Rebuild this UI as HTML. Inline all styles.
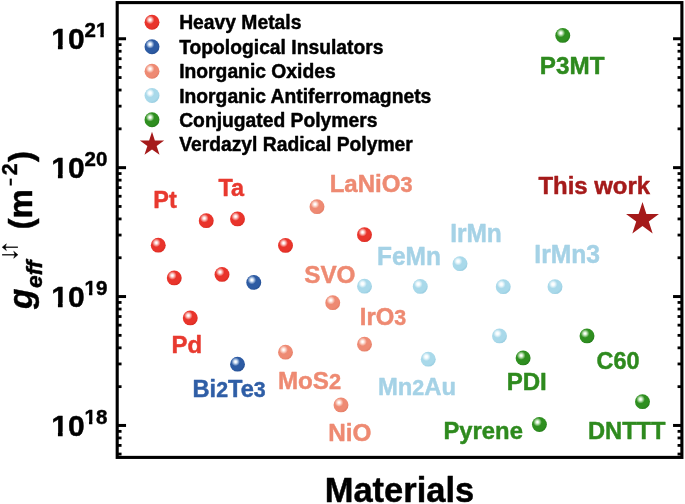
<!DOCTYPE html>
<html><head><meta charset="utf-8"><title>Spin mixing conductance</title>
<style>html,body{margin:0;padding:0;background:#fff;}body{width:685px;height:504px;overflow:hidden;}svg{display:block;will-change:transform;}text{font-family:"Liberation Sans",sans-serif;font-weight:bold;}</style></head><body>
<svg width="685" height="504" viewBox="0 0 685 504">
<defs>
<radialGradient id="g_red" cx="0.37" cy="0.34" r="0.80"><stop offset="0" stop-color="#ffffff"/><stop offset="0.05" stop-color="#ffffff"/><stop offset="0.14" stop-color="#fbd0cc"/><stop offset="0.36" stop-color="#e9342b"/><stop offset="0.68" stop-color="#e9342b"/><stop offset="0.93" stop-color="#d3281f"/></radialGradient>
<radialGradient id="g_blue" cx="0.37" cy="0.34" r="0.80"><stop offset="0" stop-color="#ffffff"/><stop offset="0.05" stop-color="#ffffff"/><stop offset="0.14" stop-color="#cfdff3"/><stop offset="0.36" stop-color="#2d5ba3"/><stop offset="0.68" stop-color="#2d5ba3"/><stop offset="0.93" stop-color="#224a8c"/></radialGradient>
<radialGradient id="g_salm" cx="0.37" cy="0.34" r="0.80"><stop offset="0" stop-color="#ffffff"/><stop offset="0.05" stop-color="#ffffff"/><stop offset="0.14" stop-color="#fde3db"/><stop offset="0.36" stop-color="#ee8a73"/><stop offset="0.68" stop-color="#ee8a73"/><stop offset="0.93" stop-color="#e07a63"/></radialGradient>
<radialGradient id="g_lblue" cx="0.37" cy="0.34" r="0.80"><stop offset="0" stop-color="#ffffff"/><stop offset="0.05" stop-color="#ffffff"/><stop offset="0.14" stop-color="#f2fafd"/><stop offset="0.36" stop-color="#a9d9ea"/><stop offset="0.68" stop-color="#a9d9ea"/><stop offset="0.93" stop-color="#93c9dd"/></radialGradient>
<radialGradient id="g_green" cx="0.37" cy="0.34" r="0.80"><stop offset="0" stop-color="#ffffff"/><stop offset="0.05" stop-color="#ffffff"/><stop offset="0.14" stop-color="#cdebc6"/><stop offset="0.36" stop-color="#2f8f20"/><stop offset="0.68" stop-color="#2f8f20"/><stop offset="0.93" stop-color="#23781a"/></radialGradient>
</defs>
<rect x="0" y="0" width="685" height="504" fill="#ffffff"/>
<g stroke="#000" stroke-linecap="butt">
<line x1="117.2" y1="425.45" x2="126.05" y2="425.45" stroke-width="3.0"/>
<line x1="681.9" y1="425.45" x2="673.05" y2="425.45" stroke-width="3.0"/>
<line x1="117.2" y1="296.55" x2="126.05" y2="296.55" stroke-width="3.0"/>
<line x1="681.9" y1="296.55" x2="673.05" y2="296.55" stroke-width="3.0"/>
<line x1="117.2" y1="167.65" x2="126.05" y2="167.65" stroke-width="3.0"/>
<line x1="681.9" y1="167.65" x2="673.05" y2="167.65" stroke-width="3.0"/>
<line x1="117.2" y1="38.75" x2="126.05" y2="38.75" stroke-width="3.0"/>
<line x1="681.9" y1="38.75" x2="673.05" y2="38.75" stroke-width="3.0"/>
<line x1="117.2" y1="454.05" x2="121.55" y2="454.05" stroke-width="2.8"/>
<line x1="681.9" y1="454.05" x2="677.55" y2="454.05" stroke-width="2.8"/>
<line x1="117.2" y1="445.42" x2="121.55" y2="445.42" stroke-width="2.8"/>
<line x1="681.9" y1="445.42" x2="677.55" y2="445.42" stroke-width="2.8"/>
<line x1="117.2" y1="437.94" x2="121.55" y2="437.94" stroke-width="2.8"/>
<line x1="681.9" y1="437.94" x2="677.55" y2="437.94" stroke-width="2.8"/>
<line x1="117.2" y1="431.35" x2="121.55" y2="431.35" stroke-width="2.8"/>
<line x1="681.9" y1="431.35" x2="677.55" y2="431.35" stroke-width="2.8"/>
<line x1="117.2" y1="386.65" x2="121.55" y2="386.65" stroke-width="2.8"/>
<line x1="681.9" y1="386.65" x2="677.55" y2="386.65" stroke-width="2.8"/>
<line x1="117.2" y1="363.95" x2="121.55" y2="363.95" stroke-width="2.8"/>
<line x1="681.9" y1="363.95" x2="677.55" y2="363.95" stroke-width="2.8"/>
<line x1="117.2" y1="347.84" x2="121.55" y2="347.84" stroke-width="2.8"/>
<line x1="681.9" y1="347.84" x2="677.55" y2="347.84" stroke-width="2.8"/>
<line x1="117.2" y1="335.35" x2="121.55" y2="335.35" stroke-width="2.8"/>
<line x1="681.9" y1="335.35" x2="677.55" y2="335.35" stroke-width="2.8"/>
<line x1="117.2" y1="325.15" x2="121.55" y2="325.15" stroke-width="2.8"/>
<line x1="681.9" y1="325.15" x2="677.55" y2="325.15" stroke-width="2.8"/>
<line x1="117.2" y1="316.52" x2="121.55" y2="316.52" stroke-width="2.8"/>
<line x1="681.9" y1="316.52" x2="677.55" y2="316.52" stroke-width="2.8"/>
<line x1="117.2" y1="309.04" x2="121.55" y2="309.04" stroke-width="2.8"/>
<line x1="681.9" y1="309.04" x2="677.55" y2="309.04" stroke-width="2.8"/>
<line x1="117.2" y1="302.45" x2="121.55" y2="302.45" stroke-width="2.8"/>
<line x1="681.9" y1="302.45" x2="677.55" y2="302.45" stroke-width="2.8"/>
<line x1="117.2" y1="257.75" x2="121.55" y2="257.75" stroke-width="2.8"/>
<line x1="681.9" y1="257.75" x2="677.55" y2="257.75" stroke-width="2.8"/>
<line x1="117.2" y1="235.05" x2="121.55" y2="235.05" stroke-width="2.8"/>
<line x1="681.9" y1="235.05" x2="677.55" y2="235.05" stroke-width="2.8"/>
<line x1="117.2" y1="218.94" x2="121.55" y2="218.94" stroke-width="2.8"/>
<line x1="681.9" y1="218.94" x2="677.55" y2="218.94" stroke-width="2.8"/>
<line x1="117.2" y1="206.45" x2="121.55" y2="206.45" stroke-width="2.8"/>
<line x1="681.9" y1="206.45" x2="677.55" y2="206.45" stroke-width="2.8"/>
<line x1="117.2" y1="196.25" x2="121.55" y2="196.25" stroke-width="2.8"/>
<line x1="681.9" y1="196.25" x2="677.55" y2="196.25" stroke-width="2.8"/>
<line x1="117.2" y1="187.62" x2="121.55" y2="187.62" stroke-width="2.8"/>
<line x1="681.9" y1="187.62" x2="677.55" y2="187.62" stroke-width="2.8"/>
<line x1="117.2" y1="180.14" x2="121.55" y2="180.14" stroke-width="2.8"/>
<line x1="681.9" y1="180.14" x2="677.55" y2="180.14" stroke-width="2.8"/>
<line x1="117.2" y1="173.55" x2="121.55" y2="173.55" stroke-width="2.8"/>
<line x1="681.9" y1="173.55" x2="677.55" y2="173.55" stroke-width="2.8"/>
<line x1="117.2" y1="128.85" x2="121.55" y2="128.85" stroke-width="2.8"/>
<line x1="681.9" y1="128.85" x2="677.55" y2="128.85" stroke-width="2.8"/>
<line x1="117.2" y1="106.15" x2="121.55" y2="106.15" stroke-width="2.8"/>
<line x1="681.9" y1="106.15" x2="677.55" y2="106.15" stroke-width="2.8"/>
<line x1="117.2" y1="90.04" x2="121.55" y2="90.04" stroke-width="2.8"/>
<line x1="681.9" y1="90.04" x2="677.55" y2="90.04" stroke-width="2.8"/>
<line x1="117.2" y1="77.55" x2="121.55" y2="77.55" stroke-width="2.8"/>
<line x1="681.9" y1="77.55" x2="677.55" y2="77.55" stroke-width="2.8"/>
<line x1="117.2" y1="67.35" x2="121.55" y2="67.35" stroke-width="2.8"/>
<line x1="681.9" y1="67.35" x2="677.55" y2="67.35" stroke-width="2.8"/>
<line x1="117.2" y1="58.72" x2="121.55" y2="58.72" stroke-width="2.8"/>
<line x1="681.9" y1="58.72" x2="677.55" y2="58.72" stroke-width="2.8"/>
<line x1="117.2" y1="51.24" x2="121.55" y2="51.24" stroke-width="2.8"/>
<line x1="681.9" y1="51.24" x2="677.55" y2="51.24" stroke-width="2.8"/>
<line x1="117.2" y1="44.65" x2="121.55" y2="44.65" stroke-width="2.8"/>
<line x1="681.9" y1="44.65" x2="677.55" y2="44.65" stroke-width="2.8"/>
</g>
<rect x="117.2" y="2.6" width="564.70" height="454.80" fill="none" stroke="#000" stroke-width="3.1"/>
<text x="51.25" y="435.80" font-size="30.0" fill="#000" stroke="#000" stroke-width="0.45" stroke-linejoin="round">10</text>
<rect x="52.15" y="431.75" width="5.78" height="5.65" fill="#fff"/><rect x="62.65" y="431.75" width="5.70" height="5.65" fill="#fff"/>
<text x="84.5" y="423.60" font-size="20.5" fill="#000" stroke="#000" stroke-width="0.45" stroke-linejoin="round">18</text>
<rect x="85.11" y="420.83" width="3.85" height="4.37" fill="#fff"/><rect x="92.38" y="420.83" width="3.90" height="4.37" fill="#fff"/>
<text x="51.25" y="306.90" font-size="30.0" fill="#000" stroke="#000" stroke-width="0.45" stroke-linejoin="round">10</text>
<rect x="52.15" y="302.85" width="5.78" height="5.65" fill="#fff"/><rect x="62.65" y="302.85" width="5.70" height="5.65" fill="#fff"/>
<text x="84.5" y="294.70" font-size="20.5" fill="#000" stroke="#000" stroke-width="0.45" stroke-linejoin="round">19</text>
<rect x="85.11" y="291.93" width="3.85" height="4.37" fill="#fff"/><rect x="92.38" y="291.93" width="3.90" height="4.37" fill="#fff"/>
<text x="51.25" y="178.00" font-size="30.0" fill="#000" stroke="#000" stroke-width="0.45" stroke-linejoin="round">10</text>
<rect x="52.15" y="173.95" width="5.78" height="5.65" fill="#fff"/><rect x="62.65" y="173.95" width="5.70" height="5.65" fill="#fff"/>
<text x="84.5" y="165.80" font-size="20.5" fill="#000" stroke="#000" stroke-width="0.45" stroke-linejoin="round">20</text>
<text x="51.25" y="49.10" font-size="30.0" fill="#000" stroke="#000" stroke-width="0.45" stroke-linejoin="round">10</text>
<rect x="52.15" y="45.05" width="5.78" height="5.65" fill="#fff"/><rect x="62.65" y="45.05" width="5.70" height="5.65" fill="#fff"/>
<text x="84.5" y="36.90" font-size="20.5" fill="#000" stroke="#000" stroke-width="0.45" stroke-linejoin="round">21</text>
<rect x="96.51" y="34.13" width="3.85" height="4.37" fill="#fff"/><rect x="103.78" y="34.13" width="3.90" height="4.37" fill="#fff"/>
<circle cx="152" cy="22.2" r="7.45" fill="url(#g_red)"/>
<text transform="translate(179.2 29.30) scale(1 1.05)" font-size="19.3" fill="#000" stroke="#000" stroke-width="0.45" stroke-linejoin="round">Heavy Metals</text>
<circle cx="152" cy="46.7" r="7.45" fill="url(#g_blue)"/>
<text transform="translate(179.2 53.80) scale(1 1.05)" font-size="19.3" fill="#000" stroke="#000" stroke-width="0.45" stroke-linejoin="round">Topological Insulators</text>
<circle cx="152" cy="71.2" r="7.45" fill="url(#g_salm)"/>
<text transform="translate(179.2 78.30) scale(1 1.05)" font-size="19.3" fill="#000" stroke="#000" stroke-width="0.45" stroke-linejoin="round">Inorganic Oxides</text>
<circle cx="152" cy="95.45" r="7.45" fill="url(#g_lblue)"/>
<text transform="translate(179.2 102.55) scale(1 1.05)" font-size="19.3" fill="#000" stroke="#000" stroke-width="0.45" stroke-linejoin="round">Inorganic Antiferromagnets</text>
<circle cx="152" cy="119.7" r="7.45" fill="url(#g_green)"/>
<text transform="translate(179.2 126.80) scale(1 1.05)" font-size="19.3" fill="#000" stroke="#000" stroke-width="0.45" stroke-linejoin="round">Conjugated Polymers</text>
<polygon points="152.00,131.70 154.87,140.54 164.17,140.54 156.65,146.01 159.52,154.86 152.00,149.39 144.48,154.86 147.35,146.01 139.83,140.54 149.13,140.54" fill="#a51a1a"/>
<text transform="translate(179.2 151.30) scale(1 1.05)" font-size="19.3" fill="#000" stroke="#000" stroke-width="0.45" stroke-linejoin="round">Verdazyl Radical Polymer</text>
<circle cx="158.25" cy="245.15" r="7.45" fill="url(#g_red)"/>
<circle cx="174.25" cy="277.9" r="7.45" fill="url(#g_red)"/>
<circle cx="190.25" cy="317.9" r="7.45" fill="url(#g_red)"/>
<circle cx="206.25" cy="220.65" r="7.45" fill="url(#g_red)"/>
<circle cx="222" cy="274.4" r="7.45" fill="url(#g_red)"/>
<circle cx="237.5" cy="218.9" r="7.45" fill="url(#g_red)"/>
<circle cx="285.5" cy="245.4" r="7.45" fill="url(#g_red)"/>
<circle cx="364.5" cy="234.65" r="7.45" fill="url(#g_red)"/>
<circle cx="253.75" cy="282.4" r="7.45" fill="url(#g_blue)"/>
<circle cx="237.5" cy="364.15" r="7.45" fill="url(#g_blue)"/>
<circle cx="317" cy="206.65" r="7.45" fill="url(#g_salm)"/>
<circle cx="332.75" cy="302.65" r="7.45" fill="url(#g_salm)"/>
<circle cx="285.5" cy="352.15" r="7.45" fill="url(#g_salm)"/>
<circle cx="364.5" cy="344.15" r="7.45" fill="url(#g_salm)"/>
<circle cx="341" cy="404.9" r="7.45" fill="url(#g_salm)"/>
<circle cx="364.5" cy="286.15" r="7.45" fill="url(#g_lblue)"/>
<circle cx="420.25" cy="286.4" r="7.45" fill="url(#g_lblue)"/>
<circle cx="460" cy="263.65" r="7.45" fill="url(#g_lblue)"/>
<circle cx="428.25" cy="359.15" r="7.45" fill="url(#g_lblue)"/>
<circle cx="503.25" cy="286.65" r="7.45" fill="url(#g_lblue)"/>
<circle cx="499.5" cy="335.9" r="7.45" fill="url(#g_lblue)"/>
<circle cx="555" cy="286.65" r="7.45" fill="url(#g_lblue)"/>
<circle cx="562.75" cy="35.4" r="7.45" fill="url(#g_green)"/>
<circle cx="523.1" cy="357.9" r="7.45" fill="url(#g_green)"/>
<circle cx="587" cy="335.9" r="7.45" fill="url(#g_green)"/>
<circle cx="539.4" cy="424.5" r="7.45" fill="url(#g_green)"/>
<circle cx="642.5" cy="401.65" r="7.45" fill="url(#g_green)"/>
<polygon points="642.50,202.10 646.38,214.05 658.95,214.05 648.79,221.44 652.67,233.40 642.50,226.01 632.33,233.40 636.21,221.44 626.05,214.05 638.62,214.05" fill="#a51a1a"/>
<text transform="translate(153.3 208.29) scale(1 1.02)" font-size="23.51" fill="#e8392f" stroke="#e8392f" stroke-width="0.45" stroke-linejoin="round">Pt</text>
<text transform="translate(218.4 195.55) scale(1 1.02)" font-size="23.4" fill="#e8392f" stroke="#e8392f" stroke-width="0.45" stroke-linejoin="round">Ta</text>
<text transform="translate(171.57 352.83) scale(1 1.02)" font-size="23.97" fill="#e8392f" stroke="#e8392f" stroke-width="0.45" stroke-linejoin="round">Pd</text>
<text transform="translate(192.49 397.12) scale(1 1.02)" font-size="23.66" fill="#2f5ea6" stroke="#2f5ea6" stroke-width="0.45" stroke-linejoin="round">Bi<tspan font-size="21.3">2</tspan>Te<tspan font-size="21.3">3</tspan></text>
<text transform="translate(329.66 192.33) scale(1 1.02)" font-size="24.04" fill="#ee8a72" stroke="#ee8a72" stroke-width="0.45" stroke-linejoin="round">LaNiO<tspan font-size="21.6">3</tspan></text>
<text transform="translate(304.17 283.02) scale(1 1.02)" font-size="24.31" fill="#ee8a72" stroke="#ee8a72" stroke-width="0.45" stroke-linejoin="round">SVO</text>
<text transform="translate(359.78 324.83) scale(1 1.02)" font-size="23.81" fill="#ee8a72" stroke="#ee8a72" stroke-width="0.45" stroke-linejoin="round">IrO<tspan font-size="21.4">3</tspan></text>
<text transform="translate(277.95 389.28) scale(1 1.02)" font-size="24.18" fill="#ee8a72" stroke="#ee8a72" stroke-width="0.45" stroke-linejoin="round">MoS<tspan font-size="21.8">2</tspan></text>
<text transform="translate(328.25 441.12) scale(1 1.02)" font-size="24.3" fill="#ee8a72" stroke="#ee8a72" stroke-width="0.45" stroke-linejoin="round">NiO</text>
<text transform="translate(450.13 242.33) scale(1 1.02)" font-size="24.5" fill="#a5d2e6" stroke="#a5d2e6" stroke-width="0.45" stroke-linejoin="round">IrMn</text>
<text transform="translate(377.04 264.83) scale(1 1.02)" font-size="24.48" fill="#a5d2e6" stroke="#a5d2e6" stroke-width="0.45" stroke-linejoin="round">FeMn</text>
<text transform="translate(377.93 395.33) scale(1 1.02)" font-size="23.84" fill="#a5d2e6" stroke="#a5d2e6" stroke-width="0.45" stroke-linejoin="round">Mn<tspan font-size="21.5">2</tspan>Au</text>
<text transform="translate(534.32 262.72) scale(1 1.02)" font-size="24.67" fill="#a5d2e6" stroke="#a5d2e6" stroke-width="0.45" stroke-linejoin="round">IrMn3</text>
<text transform="translate(539.8 74.23) scale(1 1.02)" font-size="24.25" fill="#2e8a1e" stroke="#2e8a1e" stroke-width="0.45" stroke-linejoin="round">P3MT</text>
<text transform="translate(506.66 389.92) scale(1 1.02)" font-size="24.1" fill="#2e8a1e" stroke="#2e8a1e" stroke-width="0.45" stroke-linejoin="round">PDI</text>
<text transform="translate(596.61 368.92) scale(1 1.02)" font-size="23.43" fill="#2e8a1e" stroke="#2e8a1e" stroke-width="0.45" stroke-linejoin="round">C60</text>
<text transform="translate(443.48 439.12) scale(1 1.02)" font-size="23.82" fill="#2e8a1e" stroke="#2e8a1e" stroke-width="0.45" stroke-linejoin="round">Pyrene</text>
<text transform="translate(587.94 439.12) scale(1 1.02)" font-size="23.69" fill="#2e8a1e" stroke="#2e8a1e" stroke-width="0.45" stroke-linejoin="round">DNTTT</text>
<text transform="translate(538.41 194.19) scale(1 1.02)" font-size="23.93" fill="#a51a1a" stroke="#a51a1a" stroke-width="0.45" stroke-linejoin="round">This work</text>
<text transform="translate(324.7 501.7) scale(1 1.035)" font-size="34.5" fill="#000" stroke="#000" stroke-width="0.45" stroke-linejoin="round">Materials</text>
<g transform="translate(32,0) rotate(-90)">
<text transform="translate(-308.9,0) scale(1.0,1)" x="0" y="0" font-size="33.5" font-style="italic" fill="#000" stroke="#000" stroke-width="0.45" stroke-linejoin="round">g</text>
<text x="-288.0" y="10.2" font-size="22.8" font-style="italic" fill="#000" stroke="#000" stroke-width="0.45" stroke-linejoin="round">eff</text>
<text x="-229.5" y="0" font-size="33" fill="#000" stroke="#000" stroke-width="0.45" stroke-linejoin="round">(m</text>
<text x="-175.2" y="-15.3" font-size="21.5" fill="#000" stroke="#000" stroke-width="0.45" stroke-linejoin="round">2</text>
<text x="-162.0" y="0" font-size="33" fill="#000" stroke="#000" stroke-width="0.45" stroke-linejoin="round">)</text>
</g>
<rect x="9.7" y="178.6" width="2.1" height="6.9" fill="#000"/>
<g fill="#000" stroke="#000" stroke-width="0.5" stroke-linejoin="round">
<path d="M2.2 247.2 L6.4 243.8 L5.1 247.2 L6.4 250.6 Z"/>
<path d="M17.9 254.8 L13.7 251.3 L15.0 254.8 L13.7 258.3 Z"/>
</g>
<g stroke="#000" stroke-width="1.25" fill="none">
<path d="M4.6 247.2 H17.9"/>
<path d="M2.1 254.8 H15.5"/>
</g>
</svg></body></html>
